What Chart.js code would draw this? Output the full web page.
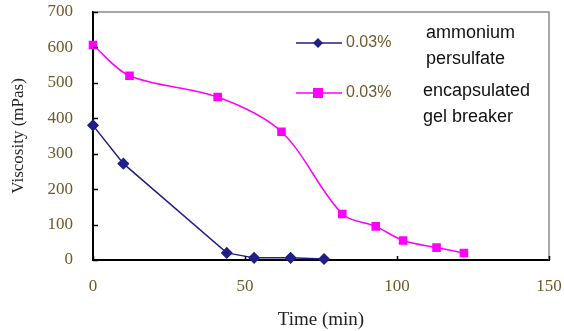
<!DOCTYPE html>
<html>
<head>
<meta charset="utf-8">
<script src="https://cdn.jsdelivr.net/npm/chart.js@4/dist/chart.umd.min.js"></script>
<style>
  html, body { margin: 0; padding: 0; background: #fff; }
  #wrap { width: 564px; height: 331px; position: relative; }
</style>
</head>
<body>
<div id="wrap"><canvas id="chartStuff"></canvas></div>
<script>
// values
var apsTime = [0, 10, 44, 53, 65, 76];
var apsVisc = [380, 272, 20, 6, 6, 3];
var gbTime = [0, 12, 41, 62, 82, 93, 102, 113, 122];
var gbVisc = [607, 520, 460, 362, 130, 95, 55, 35, 20];
var legendDose = ["0.03%", "0.03%"];
var legendNames = [["ammonium", "persulfate"], ["encapsulated", "gel breaker"]];
var xTitle = "Time (min)";
var yTitle = "Viscosity (mPas)";

var tickColor = "#6e5a2c";
var serif = "'Liberation Serif', 'Times New Roman', serif";
var sans = "'Liberation Sans', Arial, sans-serif";

function pairs(xs, ys) {
  var out = [];
  for (var i = 0; i < xs.length; i++) out.push({x: xs[i], y: ys[i]});
  return out;
}

// frame, inner tick marks and the legend block
var extras = {
  id: "extras",
  afterDatasetsDraw: function(chart) {
    var c = chart.ctx, a = chart.chartArea;
    var xs = chart.scales.x, ys = chart.scales.y;
    c.save();
    c.strokeStyle = "#8c8c8c";
    c.lineWidth = 1.5;
    c.beginPath();
    c.moveTo(a.left, a.top);
    c.lineTo(a.right, a.top);
    c.lineTo(a.right, a.bottom);
    c.stroke();
    c.strokeStyle = "#000";
    c.lineWidth = 1.5;
    c.beginPath();
    ys.ticks.forEach(function(t) {
      var py = Math.round(ys.getPixelForValue(t.value)) + 0.5;
      c.moveTo(a.left, py); c.lineTo(a.left + 5, py);
    });
    xs.ticks.forEach(function(t) {
      var px = Math.round(xs.getPixelForValue(t.value)) + 0.5;
      c.moveTo(px, a.bottom); c.lineTo(px, a.bottom - 4);
    });
    c.stroke();

    // legend
    var rows = [43, 93];
    chart.data.datasets.forEach(function(ds, i) {
      var y = rows[i];
      c.strokeStyle = ds.borderColor;
      c.lineWidth = 1.5;
      c.beginPath(); c.moveTo(296, y); c.lineTo(342, y); c.stroke();
      c.fillStyle = ds.borderColor;
      c.beginPath();
      if (ds.pointStyle === "rectRot") {
        c.moveTo(318, y - 5); c.lineTo(323, y); c.lineTo(318, y + 5); c.lineTo(313, y);
      } else {
        c.rect(313, y - 5, 10, 10);
      }
      c.fill();
      c.fillStyle = tickColor;
      c.font = "16px " + sans;
      c.textBaseline = "middle";
      c.textAlign = "left";
      c.fillText(legendDose[i], 346, y);
      c.fillStyle = "#111";
      c.font = "18px " + sans;
      var nx = i === 0 ? 426 : 423;
      var ny = i === 0 ? 33 : 91;
      c.fillText(legendNames[i][0], nx, ny);
      c.fillText(legendNames[i][1], nx, ny + 26);
    });
    c.restore();
  }
};

var ctx = document.getElementById("chartStuff").getContext("2d");
var myChart = new Chart(ctx, {
  type: "line",
  data: {
    datasets: [{
      label: "0.03% ammonium persulfate",
      data: pairs(apsTime, apsVisc),
      borderColor: "#1f1f86",
      backgroundColor: "#1f1f86",
      borderWidth: 1.5,
      pointStyle: "rectRot",
      pointRadius: 5,
      tension: 0,
      clip: false
    }, {
      label: "0.03% encapsulated gel breaker",
      data: pairs(gbTime, gbVisc),
      borderColor: "#ff00ff",
      backgroundColor: "#ff00ff",
      borderWidth: 1.5,
      pointStyle: "rect",
      pointRadius: 5,
      tension: 0.33,
      clip: false
    }]
  },
  options: {
    responsive: true,
    maintainAspectRatio: false,
    animation: false,
    layout: { padding: { left: 0, right: 15, top: 12, bottom: 0 } },
    plugins: { legend: { display: false }, tooltip: { enabled: false } },
    scales: {
      x: {
        type: "linear",
        min: 0, max: 150,
        ticks: { stepSize: 50, color: tickColor, font: { family: serif, size: 17 }, padding: 16 },
        grid: { display: false, drawTicks: false },
        border: { color: "#000", width: 2 },
        title: { display: true, text: xTitle, color: "#222", font: { family: serif, size: 19 }, padding: { top: 8, bottom: 0 } },
        afterFit: function(s) { s.height = 71; s.paddingLeft = 0; s.paddingRight = 0; }
      },
      y: {
        min: 0, max: 700,
        ticks: { stepSize: 100, color: tickColor, font: { family: serif, size: 17 }, padding: 20 },
        grid: { display: false, drawTicks: false },
        border: { color: "#000", width: 2 },
        title: { display: true, text: yTitle, color: "#222", font: { family: serif, size: 17 }, padding: { top: 8, bottom: 0 } },
        afterFit: function(s) { s.width = 93; s.paddingTop = 0; s.paddingBottom = 0; }
      }
    }
  },
  plugins: [extras]
});
</script>
</body>
</html>
